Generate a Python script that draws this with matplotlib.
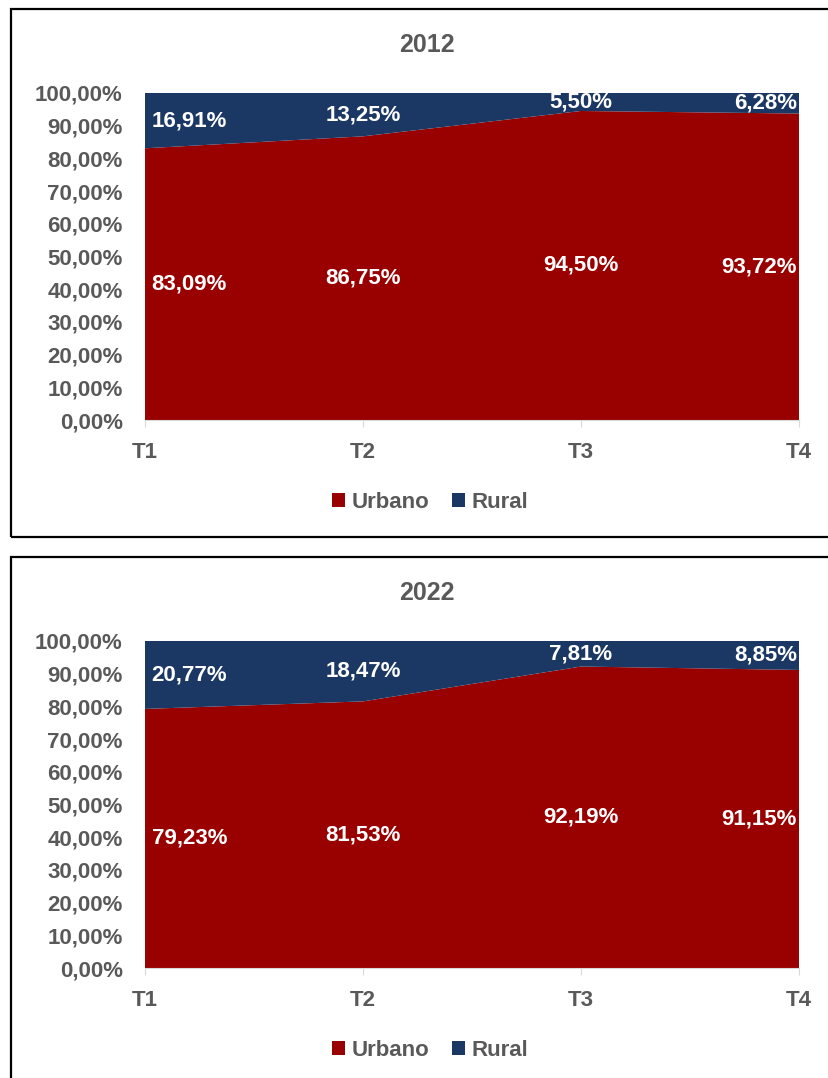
import numpy as np
import matplotlib.pyplot as plt
from matplotlib.patches import Rectangle

plt.rcParams['font.family'] = ['Liberation Sans', 'DejaVu Sans']
plt.rcParams['font.weight'] = 'bold'

quarters = ['T1', 'T2', 'T3', 'T4']
urbano_2012 = [83.09, 86.75, 94.50, 93.72]
rural_2012 = [16.91, 13.25, 5.50, 6.28]
urbano_2022 = [79.23, 81.53, 92.19, 91.15]
rural_2022 = [20.77, 18.47, 7.81, 8.85]

RED = '#990000'
BLUE = '#1b3764'
GRAY = '#595959'
FS = 16

W, H = 829, 1078
fig = plt.figure(figsize=(W / 100, H / 100), dpi=100)


def fmt(v):
    return ('%.2f%%' % v).replace('.', ',')


def panel(top_px, title, urbano, rural, box_bottom=None):
    # frame around the chart (right side runs off the image)
    y0 = (H - box_bottom) / H if box_bottom is not None else -0.05
    y1 = (H - top_px) / H
    fig.add_artist(Rectangle((11 / W, y0), 1.2, y1 - y0, transform=fig.transFigure,
                             fill=False, ec='black', lw=1.6))
    ax_top = top_px + 84
    ax_bot = top_px + 411
    ax = fig.add_axes([145 / W, (H - ax_bot) / H, 654 / W, (ax_bot - ax_top) / H])
    x = np.arange(len(quarters))
    ax.stackplot(x, urbano, rural, colors=[RED, BLUE], labels=['Urbano', 'Rural'],
                 edgecolor='none')
    ax.set_xlim(0, len(quarters) - 1)
    ax.set_ylim(0, 100)
    ax.set_yticks(np.arange(0, 101, 10))
    ax.set_yticklabels([fmt(v) for v in np.arange(0, 101, 10)])
    ax.set_xticks(x)
    ax.set_xticklabels(quarters)
    for s in ['top', 'right', 'left']:
        ax.spines[s].set_visible(False)
    ax.spines['bottom'].set_color('#d9d9d9')
    ax.tick_params(axis='y', length=0, pad=16, labelsize=FS, labelcolor=GRAY)
    ax.tick_params(axis='x', length=5, color='#d9d9d9', pad=11, labelsize=FS,
                   labelcolor=GRAY)
    for i in range(len(quarters)):
        if i == 0:
            ha, dx = 'left', 0.03
        elif i == len(quarters) - 1:
            ha, dx = 'right', -0.01
        else:
            ha, dx = 'center', 0
        ax.text(i + dx, urbano[i] / 2, fmt(urbano[i]), ha=ha, va='center',
                color='white', fontsize=FS, fontweight='bold')
        ax.text(i + dx, urbano[i] + rural[i] / 2, fmt(rural[i]), ha=ha, va='center',
                color='white', fontsize=FS, fontweight='bold')
    fig.text(427 / W, (H - (top_px + 36)) / H, title, ha='center', va='center',
             fontsize=18, color=GRAY, fontweight='bold')
    fig.legend(*ax.get_legend_handles_labels(), loc='center',
               bbox_to_anchor=(430 / W, (H - (top_px + 493)) / H), ncol=2,
               frameon=False, fontsize=FS, labelcolor=GRAY, handlelength=0.6,
               handleheight=0.6, handletextpad=0.3, columnspacing=1.0)


panel(9, '2012', urbano_2012, rural_2012, box_bottom=537)
panel(557, '2022', urbano_2022, rural_2022)

fig.savefig('out.png', dpi=100)
